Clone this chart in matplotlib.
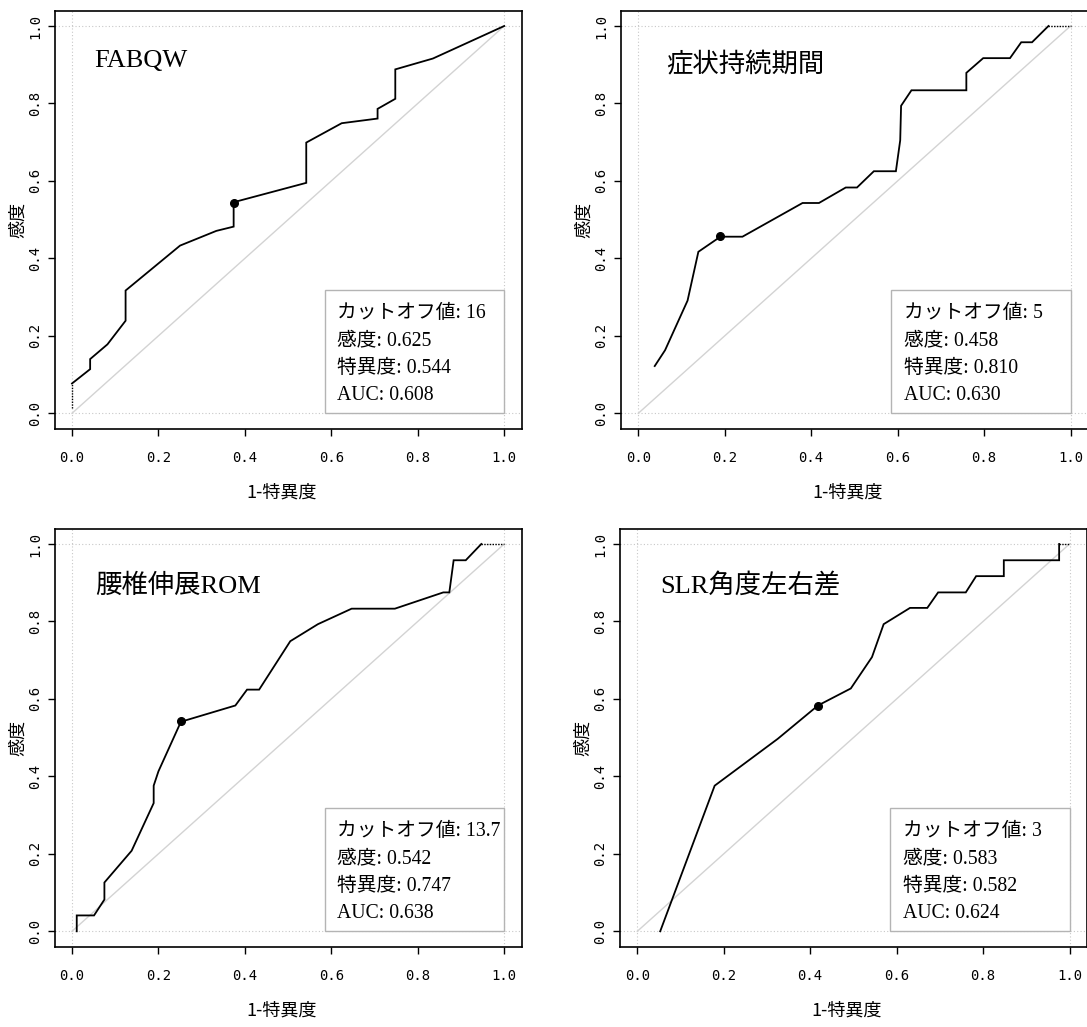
import matplotlib
matplotlib.use("Agg")
import matplotlib.pyplot as plt
from matplotlib.patches import Rectangle

# ---------------- data ----------------
titles = ["FABQW", "症状持続期間", "腰椎伸展ROM", "SLR角度左右差"]

x_fabqw = [0.0, 0.042, 0.042, 0.082, 0.124, 0.124, 0.25, 0.334, 0.374, 0.374,
           0.542, 0.542, 0.624, 0.707, 0.707, 0.748, 0.748, 0.835, 1.0]
y_fabqw = [0.077, 0.114, 0.140, 0.178, 0.239, 0.317, 0.433, 0.471, 0.482, 0.545,
           0.595, 0.699, 0.749, 0.761, 0.786, 0.812, 0.888, 0.916, 1.0]

x_dur = [0.038, 0.062, 0.114, 0.139, 0.190, 0.241, 0.380, 0.418, 0.480, 0.506,
         0.545, 0.596, 0.606, 0.608, 0.632, 0.759, 0.759, 0.798, 0.860, 0.886,
         0.911, 0.949]
y_dur = [0.122, 0.163, 0.291, 0.417, 0.456, 0.456, 0.543, 0.543, 0.583, 0.583,
         0.625, 0.625, 0.705, 0.794, 0.834, 0.834, 0.879, 0.917, 0.917, 0.958,
         0.958, 1.0]

x_rom = [0.011, 0.011, 0.051, 0.075, 0.075, 0.138, 0.189, 0.189, 0.200, 0.252,
         0.378, 0.405, 0.433, 0.505, 0.569, 0.647, 0.747, 0.859, 0.873, 0.883,
         0.911, 0.947]
y_rom = [0.0, 0.041, 0.041, 0.082, 0.126, 0.208, 0.331, 0.376, 0.413, 0.541,
         0.583, 0.624, 0.624, 0.749, 0.793, 0.833, 0.833, 0.875, 0.875, 0.958,
         0.958, 1.0]

x_slr = [0.053, 0.179, 0.325, 0.418, 0.494, 0.543, 0.570, 0.631, 0.671, 0.696,
         0.760, 0.784, 0.848, 0.848, 0.976, 0.976]
y_slr = [0.0, 0.376, 0.497, 0.583, 0.627, 0.708, 0.793, 0.835, 0.835, 0.875,
         0.875, 0.917, 0.917, 0.958, 0.958, 1.0]

# dotted (partial) segments of each curve
dot_x = [[0.0, 0.0], [0.949, 1.0], [0.947, 1.0], [0.976, 1.0]]
dot_y = [[0.013, 0.077], [1.0, 1.0], [1.0, 1.0], [1.0, 1.0]]

# optimal cut-off points
best_x = [0.375, 0.190, 0.253, 0.418]
best_y = [0.544, 0.458, 0.542, 0.583]

cutoff = ["16", "5", "13.7", "3"]
sens = ["0.625", "0.458", "0.542", "0.583"]
spec = ["0.544", "0.810", "0.747", "0.582"]
auc = ["0.608", "0.630", "0.638", "0.624"]

curves_x = [x_fabqw, x_dur, x_rom, x_slr]
curves_y = [y_fabqw, y_dur, y_rom, y_slr]

ticks = [0.0, 0.2, 0.4, 0.6, 0.8, 1.0]
tick_labels = ["0.0", "0.2", "0.4", "0.6", "0.8", "1.0"]

# ---------------- layout ----------------
W, H = 1087, 1027
fig = plt.figure(figsize=(W / 100, H / 100), dpi=100)

def frac_rect(left_px, top_px, w_px, h_px):
    return [left_px / W, 1 - (top_px + h_px) / H, w_px / W, h_px / H]

axes_rects = [
    frac_rect(54.7, 10.5, 466.8, 418.3),
    frac_rect(621.0, 10.5, 466.8, 418.3),
    frac_rect(54.7, 528.5, 466.8, 418.3),
    frac_rect(620.0, 528.5, 466.8, 418.3),
]
title_pos = [(0.051, 0.895), (0.064, 0.880), (0.054, 0.873), (0.054, 0.872)]

serif_cjk = ["Liberation Serif", "Noto Sans CJK JP"]
gothic = ["Noto Sans CJK JP", "DejaVu Sans"]
grid_col = "#c8c8c8"

for i in range(4):
    ax = fig.add_axes(axes_rects[i])
    ax.set_xlim(-0.04, 1.04)
    ax.set_ylim(-0.04, 1.04)

    # reference lines
    for v in (0.0, 1.0):
        ax.axvline(v, color=grid_col, lw=0.8, ls=(0, (1, 2)), zorder=1)
        ax.axhline(v, color=grid_col, lw=0.8, ls=(0, (1, 2)), zorder=1)
    ax.plot([0, 1], [0, 1], color="#d3d3d3", lw=1.0, zorder=2)

    # ROC curve
    ax.plot(curves_x[i], curves_y[i], color="black", lw=1.3, zorder=4,
            solid_joinstyle="miter")
    ax.plot(dot_x[i], dot_y[i], color="black", lw=1.0, ls=(0, (1, 1)), zorder=4)
    ax.plot([best_x[i]], [best_y[i]], "o", color="black", ms=5.5, zorder=5)

    # legend box
    ax.add_patch(Rectangle((0.585, 0.0), 0.415, 0.318, facecolor="white",
                           edgecolor="#b4b4b4", lw=1.0, zorder=3))
    lines = ["カットオフ値: " + cutoff[i], "感度: " + sens[i],
             "特異度: " + spec[i], "AUC: " + auc[i]]
    for k, txt in enumerate(lines):
        ax.text(0.614, 0.247 - 0.071 * k, txt, family=serif_cjk, fontsize=14.2,
                va="baseline", ha="left", zorder=6)

    # title
    ax.text(title_pos[i][0], title_pos[i][1], titles[i], family=serif_cjk,
            fontsize=19, va="baseline", ha="left", zorder=6)

    # ticks
    ax.set_xticks(ticks)
    ax.set_yticks(ticks)
    ax.set_xticklabels(tick_labels, family="DejaVu Sans Mono", fontsize=10)
    ax.set_yticklabels(tick_labels, family="DejaVu Sans Mono", fontsize=10,
                       rotation=90, va="center")
    ax.tick_params(axis="x", length=5, width=1.0, pad=11)
    ax.tick_params(axis="y", length=5, width=1.0, pad=4)
    for sp in ax.spines.values():
        sp.set_linewidth(1.2)

    # axis labels
    ax.annotate("1-特異度", xy=(0.5, 0), xycoords="axes fraction",
                xytext=(-5, -46), textcoords="offset points",
                ha="center", va="center", family=gothic, fontsize=13)
    ax.annotate("感度", xy=(0, 0.5), xycoords="axes fraction",
                xytext=(-26.5, 0), textcoords="offset points",
                ha="center", va="center", rotation=90, family=gothic, fontsize=13)

fig.savefig("out.png", dpi=100)
